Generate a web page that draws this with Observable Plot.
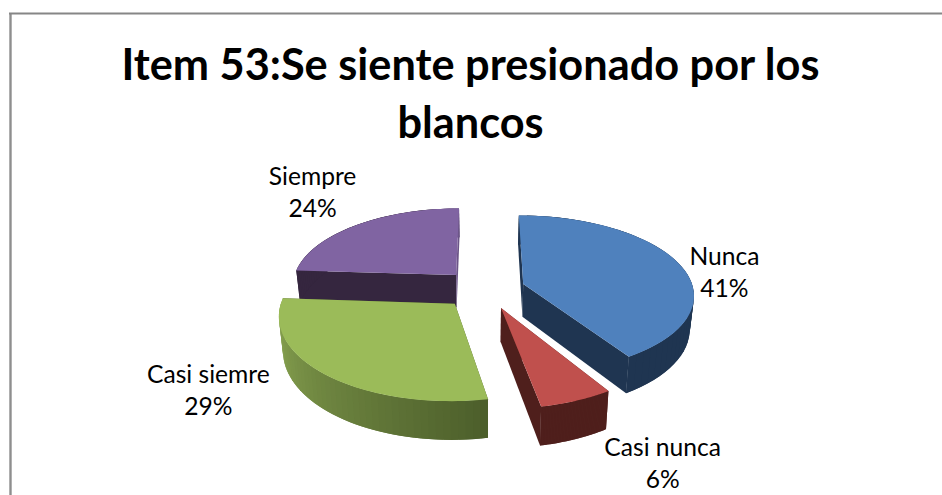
<!DOCTYPE html>
<html><head><meta charset="utf-8">
<script src="https://cdn.jsdelivr.net/npm/d3@7"></script>
<script src="https://cdn.jsdelivr.net/npm/@observablehq/plot@0.6"></script>
<style>html,body{margin:0;padding:0;background:#fff}svg{display:block}</style>
</head><body><div id="chart"></div>
<script>
const categories = ["Nunca", "Casi nunca", "Casi siemre", "Siempre"];
const shares = [41, 6, 29, 24];
const chartTitle = ["Item 53:Se siente presionado por los", "blancos"];

const topColors = ["#4f81bd", "#c0504d", "#9bbb59", "#8064a2"];
const rimStops = [["#1f3551","#1f3551"],["#4f1f1c","#4f1f1c"],["#8fab55","#4b5d2a"],["#35263f","#6c5588"]];
const rimEase = [1, 1, 1, 10];
const startFace = ["#1f3551","#5a2421","#4b5d2a","#35263f"];
const endFace = ["#1f3551","#4f1f1c","#4b5d2a","#6c5588"];

// layout of the tilted pie
const cx = 483, cy = 288, persp = 0.00074, depth = 33, bottomScale = 0.98;
const offsets = [[40, -10, 0.46, 170], [17, 39, 0.486, 170], [-28, 31, 0.477, 170], [-28, -29, 0.472, 165]];
const labelOffsets = [[46, 8], [86, 61], [-116, 15], [-44, -34]];
const order = [3, 2, 0, 1];

function project(gx, gy, z, s) {
  const f = 1 / (1 - gy * persp);
  const xs = z ? bottomScale : 1;
  return [cx + gx * f * xs, cy + gy * s * f + z * depth * f];
}
const total = d3.sum(shares);
let acc = 0;
const slices = shares.map((v, i) => {
  const a0 = acc / total * 2 * Math.PI; acc += v;
  return {i, a0, a1: acc / total * 2 * Math.PI};
});
const faces = [];
function addFace(id, color, pts) { pts.forEach(p => faces.push({id, color, x: p[0], y: p[1]})); }

for (const i of order) {
  const {a0, a1} = slices[i];
  const [ox, oy, s, R] = offsets[i];
  const rimPt = (a, z) => project(ox + R * Math.sin(a), oy - R * Math.cos(a), z, s);
  const apex = z => project(ox, oy, z, s);
  // radial faces
  addFace(`s${i}a`, startFace[i], [apex(0), rimPt(a0, 0), rimPt(a0, 1), apex(1)]);
  addFace(`s${i}b`, endFace[i], [apex(0), rimPt(a1, 0), rimPt(a1, 1), apex(1)]);
  // rim, in strips that overlap so the shading runs along it without seams
  const n = 48;
  const mix = d3.interpolateRgb(...rimStops[i]);
  for (let k = 0; k < n; k++) {
    const p = a0 + (a1 - a0) * (i === 2 ? n - 1 - k : k) / n;
    const q = i === 2 ? Math.max(a0, p - (a1 - a0) / n) : Math.min(a1, p + 2 * (a1 - a0) / n);
    const qq = i === 2 ? p + (a1 - a0) / n : q;
    addFace(`s${i}r${k}`, mix(i === 2 ? (a1 - qq) / (a1 - a0) : Math.pow(k / (n - 1), rimEase[i])), [rimPt(i === 2 ? q : p, 0), rimPt(qq, 0), rimPt(qq, 1), rimPt(i === 2 ? q : p, 1)]);
  }
  // top
  const top = [apex(0)];
  for (let k = 0; k <= 60; k++) top.push(rimPt(a0 + (a1 - a0) * k / 60, 0));
  addFace(`s${i}t`, topColors[i], top);
}

const labels = slices.map(({i, a0, a1}) => {
  const m = (a0 + a1) / 2, [ox, oy, s, R] = offsets[i];
  const p = project(ox + R * Math.sin(m), oy - R * Math.cos(m), 0, s);
  return {x: p[0] + labelOffsets[i][0], y: p[1] + labelOffsets[i][1], t: `${categories[i]}\n${shares[i]}%`};
});
const titleRows = chartTitle.map((t, k) => ({t, x: 470, y: 66 + k * 58}));

const plot = Plot.plot({
  width: 942, height: 495, margin: 0,
  x: {axis: null, domain: [0, 942], range: [0, 942]},
  y: {axis: null, domain: [0, 495], range: [0, 495]},
  color: {type: "identity"},
  style: {background: "#fff"},
  marks: [
    Plot.ruleX([10], {y1: 13, y2: 495, stroke: "#8e8e8e", strokeWidth: 2.4}),
    Plot.ruleY([13], {x1: 9, x2: 942, stroke: "#868686", strokeWidth: 2}),
    Plot.line(faces, {x: "x", y: "y", z: "id", fill: "color", curve: "linear"}),
    Plot.text(labels, {x: "x", y: "y", text: "t", fontFamily: "Lato", fontSize: 24.6, fill: "#000", lineHeight: 1.3}),
    Plot.text(titleRows, {x: "x", y: "y", text: "t", fontFamily: "Lato", fontWeight: 700, fontSize: 43.3, fill: "#000"})
  ]
});
document.getElementById("chart").append(plot);
</script></body></html>
